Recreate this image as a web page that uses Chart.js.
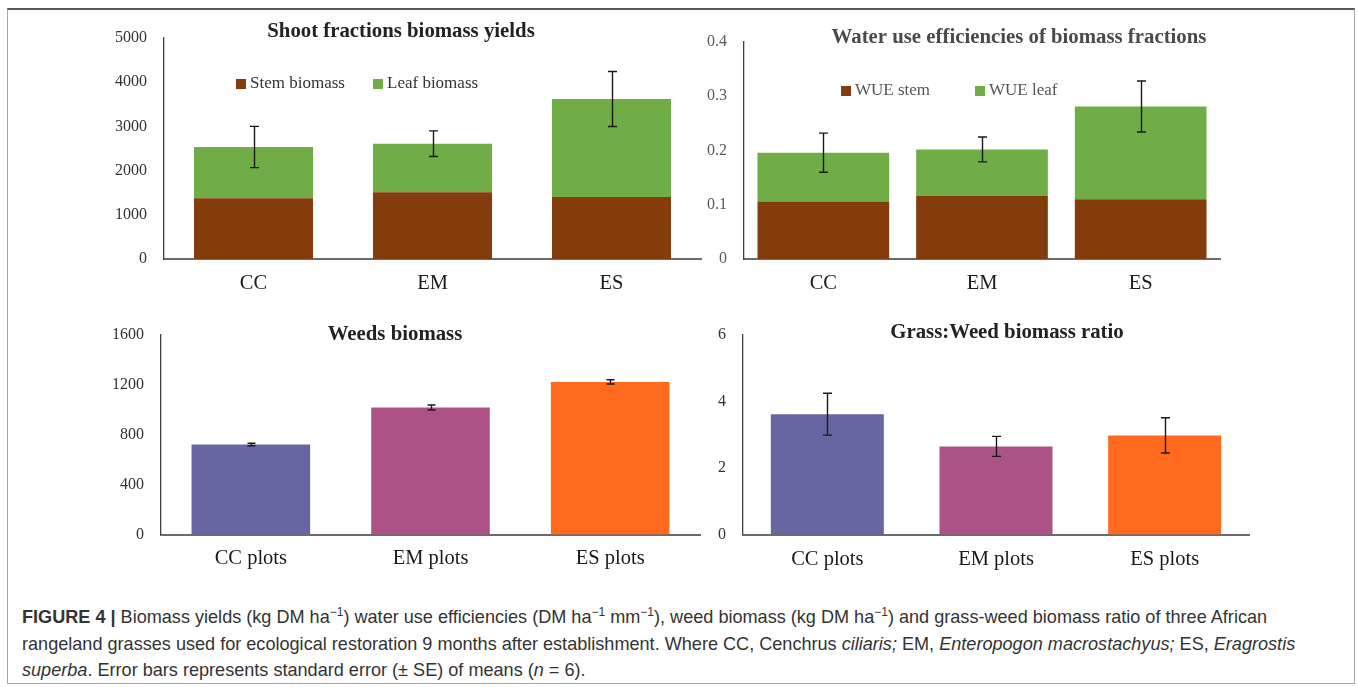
<!DOCTYPE html>
<html>
<head>
<meta charset="utf-8">
<script src="https://cdn.jsdelivr.net/npm/chart.js@4.4.1/dist/chart.umd.min.js"></script>
<style>
  html, body { margin: 0; padding: 0; background: #fff; }
  body { width: 1358px; height: 687px; position: relative; overflow: hidden; }
  #frame { position: absolute; left: 7px; top: 8px; width: 1348px; height: 676px;
           border: 1px solid #a6a6a6; border-top: 2px solid #595959; box-sizing: border-box; }
  canvas { position: absolute; }
  #caption { position: absolute; left: 22px; top: 604px; white-space: nowrap; color: #333;
             font-family: "Liberation Sans", Arial, sans-serif; font-size: 18.1px; line-height: 26.5px; }
  #caption sup { font-size: 12px; line-height: 0; vertical-align: 7px; }
</style>
</head>
<body>
<div id="frame"></div>
<canvas id="shoot" width="712" height="300" style="left:0;top:0"></canvas>
<canvas id="wue" width="560" height="300" style="left:690px;top:0"></canvas>
<canvas id="weeds" width="712" height="300" style="left:0;top:300px"></canvas>
<canvas id="ratio" width="570" height="300" style="left:690px;top:300px"></canvas>
<div id="caption">
  <b>FIGURE 4 |</b> Biomass yields (kg DM ha<sup>−1</sup>) water use efficiencies (DM ha<sup>−1</sup> mm<sup>−1</sup>), weed biomass (kg DM ha<sup>−1</sup>) and grass-weed biomass ratio of three African<br>
  rangeland grasses used for ecological restoration 9 months after establishment. Where CC, Cenchrus <i>ciliaris;</i> EM, <i>Enteropogon macrostachyus;</i> ES, <i>Eragrostis</i><br>
  <i>superba</i>. Error bars represents standard error (± SE) of means (<i>n</i> = 6).
</div>
<script>
// ── data ───────────────────────────────────────────────────
const species = ['CC', 'EM', 'ES'];
const plots = ['CC plots', 'EM plots', 'ES plots'];

const stemBiomass = [1373, 1509, 1403];
const leafBiomass = [1161, 1100, 2217];
const shootSE = [467, 290, 622];
const shootTicks = [0, 1000, 2000, 3000, 4000, 5000];

const wueStem = [0.106, 0.116, 0.110];
const wueLeaf = [0.090, 0.086, 0.171];
const wueSE = [0.036, 0.023, 0.047];
const wueTicks = [0, 0.1, 0.2, 0.3, 0.4];

const weedBiomass = [722, 1018, 1224];
const weedSE = [10, 20, 17];
const weedTicks = [0, 400, 800, 1200, 1600];

const grassWeedRatio = [3.62, 2.65, 2.98];
const ratioSE = [0.63, 0.30, 0.53];
const ratioTicks = [0, 2, 4, 6];

const STEM = '#843C0C', LEAF = '#70AD47';
const plotColors = ['#6667A1', '#AC5287', '#FF6A1F'];

Chart.defaults.font.family = '"Liberation Serif", "Times New Roman", serif';

// error bars on stacked totals + title + in-plot legend
const panelDecor = {
  id: 'panelDecor',
  afterDatasetsDraw(chart, args, opts) {
    const { ctx, scales: { x, y } } = chart;
    ctx.save();
    ctx.strokeStyle = '#1a1a1a';
    ctx.lineWidth = 1.4;
    opts.se.forEach((se, i) => {
      let total = 0;
      chart.data.datasets.forEach(ds => { total += ds.data[i]; });
      const px = Math.round(x.getPixelForValue(i)) + 0.5;
      const top = y.getPixelForValue(total + se);
      const bot = y.getPixelForValue(total - se);
      const w = opts.cap;
      ctx.beginPath();
      ctx.moveTo(px, top); ctx.lineTo(px, bot);
      ctx.moveTo(px - w, top); ctx.lineTo(px + w, top);
      ctx.moveTo(px - w, bot); ctx.lineTo(px + w, bot);
      ctx.stroke();
    });
    ctx.restore();
  },
  afterDraw(chart, args, opts) {
    const ctx = chart.ctx;
    ctx.save();
    ctx.fillStyle = opts.titleColor;
    ctx.font = 'bold 20.8px "Liberation Serif", serif';
    ctx.textAlign = 'center';
    ctx.textBaseline = 'middle';
    ctx.fillText(opts.title, opts.titleX, opts.titleY);
    if (opts.legendX) {
      ctx.font = '17px "Liberation Serif", serif';
      ctx.textAlign = 'left';
      chart.data.datasets.forEach((ds, i) => {
        const lx = opts.legendX[i];
        ctx.fillStyle = ds.backgroundColor;
        ctx.fillRect(lx, opts.legendY - 5, 10, 10);
        ctx.fillStyle = opts.legendColor;
        ctx.fillText(ds.label, lx + 14, opts.legendY);
      });
    }
    ctx.restore();
  }
};

function makeChart(id, labels, datasets, ticks, box, decor) {
  const stacked = datasets.length > 1;
  return new Chart(document.getElementById(id), {
    type: 'bar',
    data: { labels, datasets },
    plugins: [panelDecor],
    options: {
      responsive: false,
      animation: false,
      layout: { padding: { left: 0, top: box.top, right: box.right, bottom: 0 } },
      datasets: { bar: { categoryPercentage: 1, barPercentage: box.bar } },
      plugins: {
        legend: { display: false },
        tooltip: { enabled: false },
        panelDecor: decor
      },
      scales: {
        x: {
          stacked,
          grid: { display: false, drawTicks: false },
          border: { color: '#6b6b6b', width: 2 },
          ticks: { color: '#1a1a1a', padding: box.xPad, font: { size: 20.5 } },
          afterFit: s => { s.height = box.xHeight; }
        },
        y: {
          stacked,
          min: ticks[0],
          max: ticks[ticks.length - 1],
          grid: { display: false, drawTicks: false },
          border: { color: '#404040', width: 1.3 },
          ticks: {
            stepSize: ticks[1] - ticks[0],
            callback: v => String(+v.toFixed(3)),
            color: decor.tickColor, padding: 17, font: { size: 16 }
          },
          afterFit: s => { s.width = box.yWidth; }
        }
      }
    }
  });
}

makeChart('shoot', species, [
  { label: 'Stem biomass', data: stemBiomass, backgroundColor: STEM },
  { label: 'Leaf biomass', data: leafBiomass, backgroundColor: LEAF }
], shootTicks,
{ top: 38, right: 11, xHeight: 41, yWidth: 164, xPad: 12, bar: 0.665 },
{ se: shootSE, cap: 4.5, title: 'Shoot fractions biomass yields', titleX: 401, titleY: 32,
  titleColor: '#222', legendX: [236, 373], legendY: 84, legendColor: '#333', tickColor: '#333' });

makeChart('wue', species, [
  { label: 'WUE stem', data: wueStem, backgroundColor: STEM },
  { label: 'WUE leaf', data: wueLeaf, backgroundColor: LEAF }
], wueTicks,
{ top: 42, right: 30, xHeight: 41, yWidth: 54, xPad: 12, bar: 0.83 },
{ se: wueSE, cap: 4.5, title: 'Water use efficiencies of biomass fractions', titleX: 329, titleY: 38,
  titleColor: '#4a4a4a', legendX: [151, 285], legendY: 91, legendColor: '#555', tickColor: '#595959' });

makeChart('weeds', plots, [
  { label: 'Weeds biomass', data: weedBiomass, backgroundColor: plotColors }
], weedTicks,
{ top: 35, right: 12, xHeight: 65.5, yWidth: 161, xPad: 11.5, bar: 0.66 },
{ se: weedSE, cap: 4, title: 'Weeds biomass', titleX: 395, titleY: 35,
  titleColor: '#222', tickColor: '#333' });

makeChart('ratio', plots, [
  { label: 'Grass:Weed biomass ratio', data: grassWeedRatio, backgroundColor: plotColors }
], ratioTicks,
{ top: 35, right: 11, xHeight: 65.5, yWidth: 53, xPad: 13, bar: 0.67 },
{ se: ratioSE, cap: 4.5, title: 'Grass:Weed biomass ratio', titleX: 317, titleY: 33,
  titleColor: '#222', tickColor: '#333' });
</script>
</body>
</html>
